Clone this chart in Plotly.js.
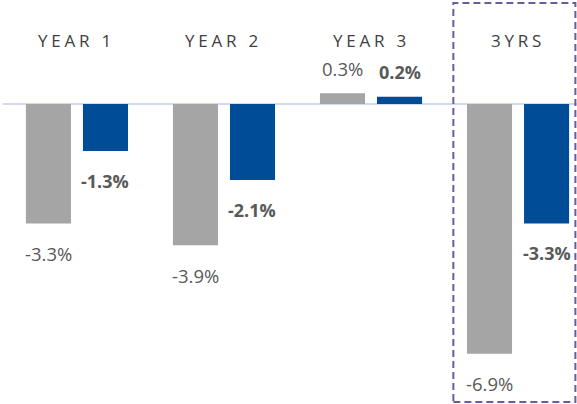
<!DOCTYPE html>
<html><head><meta charset="utf-8">
<script src="https://cdn.plot.ly/plotly-3.0.1.min.js"></script>
<style>
html,body{margin:0;padding:0;background:#fff}
#chart{width:577px;height:404px}
text.annotation-text[data-unformatted^="YEAR"], text.annotation-text[data-unformatted="3YRS"]{letter-spacing:3.8px}
</style></head><body><div id="chart"></div>
<script>
const categories = ["YEAR 1", "YEAR 2", "YEAR 3", "3YRS"];
const seriesA = [-3.3, -3.9, 0.3, -6.9];   // grey
const seriesB = [-1.3, -2.1, 0.2, -3.3];   // blue

const fmt = v => v.toFixed(1) + "%";

const traces = [
  {type: "bar", x: categories, y: seriesA, marker: {color: "#A5A5A5"}, hoverinfo: "skip"},
  {type: "bar", x: categories, y: seriesB, marker: {color: "#004C97"}, hoverinfo: "skip"}
];

const annotations = [];
categories.forEach((c, i) => {
  annotations.push({x: c, y: 1 - 41/404, yref: "paper", xref: "x", text: c, showarrow: false,
    yanchor: "middle", font: {family: "Open Sans", size: 17, color: "#404040"}});
  annotations.push({x: c, y: seriesA[i], xref: "x", yref: "y", text: fmt(seriesA[i]), showarrow: false,
    xshift: -28.5, yshift: seriesA[i] < 0 ? -30 : 25, yanchor: "middle",
    font: {family: "Open Sans", size: 18.5, color: "#595959"}});
  annotations.push({x: c, y: seriesB[i], xref: "x", yref: "y", text: "<b>" + fmt(seriesB[i]) + "</b>", showarrow: false,
    xshift: 28.5, yshift: seriesB[i] < 0 ? -30 : 25, yanchor: "middle",
    font: {family: "Open Sans", size: 18, color: "#595959"}});
});

const hi = categories.indexOf("3YRS");

const layout = {
  width: 577, height: 404,
  margin: {l: 3, r: 0, t: 0, b: 0},
  paper_bgcolor: "#fff", plot_bgcolor: "#fff",
  showlegend: false,
  barmode: "group", bargap: 0.224, bargroupgap: 0.21,
  xaxis: {type: "category", range: [-0.503, 3.401], showticklabels: false, showgrid: false, zeroline: false, showline: false, ticks: ""},
  yaxis: {range: [-8.287, 2.873], showticklabels: false, showgrid: false, zeroline: true,
    zerolinecolor: "#D3DAF0", zerolinewidth: 1.5, showline: false, ticks: ""},
  annotations: annotations,
  shapes: [{type: "rect", xref: "x", yref: "paper", x0: hi - 0.44, x1: hi + 0.39,
    y0: 1 - 402/404, y1: 1 - 3/404, line: {color: "#6A5D9E", width: 2, dash: "7px,4px"}, fillcolor: "rgba(0,0,0,0)"}]
};

Plotly.newPlot("chart", traces, layout, {staticPlot: true, displayModeBar: false});
</script></body></html>
